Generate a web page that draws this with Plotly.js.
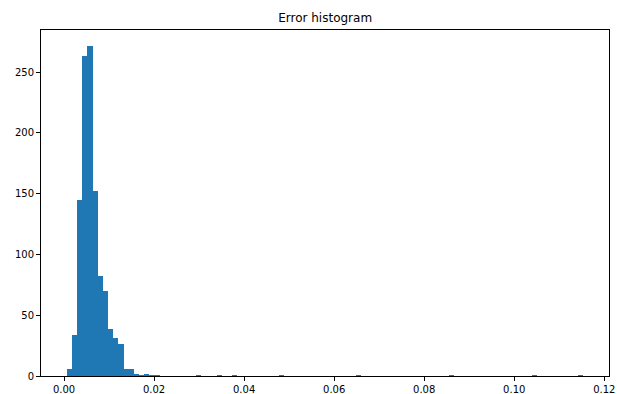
<!DOCTYPE html>
<html>
<head>
<meta charset="utf-8">
<script src="https://cdn.plot.ly/plotly-3.0.1.min.js"></script>
<style>html,body{margin:0;padding:0;background:#fff;}#chart{width:617px;height:394px;}</style>
</head>
<body>
<div id="chart"></div>
<script>
// Histogram: 100 equal-width bins, counts
const binStart = 0.00062;
const binWidth = 0.001147;
const counts = [
  6, 34, 145, 263, 271, 152, 82, 70, 39, 31,
  26, 6, 6, 2, 1, 2, 1, 1, 0, 0,
  0, 0, 0, 0, 0, 1, 0, 0, 0, 1,
  0, 0, 1, 0, 0, 0, 0, 0, 0, 0,
  0, 1, 0, 0, 0, 0, 0, 0, 0, 0,
  0, 0, 0, 0, 0, 0, 1, 0, 0, 0,
  0, 0, 0, 0, 0, 0, 0, 0, 0, 0,
  0, 0, 0, 0, 1, 0, 0, 0, 0, 0,
  0, 0, 0, 0, 0, 0, 0, 0, 0, 0,
  1, 0, 0, 0, 0, 0, 0, 0, 0, 1
];
const xTickVals = [0.00, 0.02, 0.04, 0.06, 0.08, 0.10, 0.12];
const yTickVals = [0, 50, 100, 150, 200, 250];
const titleText = "Error histogram";

const centers = counts.map((c, i) => binStart + binWidth * (i + 0.5));
const dataMin = binStart, dataMax = binStart + binWidth * counts.length;
const span = dataMax - dataMin;
const maxCount = Math.max(...counts);

const trace = {
  type: 'bar',
  x: centers,
  y: counts,
  width: binWidth,
  marker: {color: '#1f77b4', line: {width: 0}},
  hoverinfo: 'x+y'
};

const axisCommon = {
  showline: true, mirror: true, linecolor: '#000', linewidth: 1,
  ticks: 'outside', ticklen: 4, tickwidth: 1, tickcolor: '#000',
  showgrid: false, zeroline: false,
  tickfont: {family: 'DejaVu Sans', size: 10, color: '#000'}
};

const layout = {
  width: 617, height: 394,
  margin: {l: 41, r: 8, t: 30, b: 18},
  paper_bgcolor: '#fff', plot_bgcolor: '#fff',
  showlegend: false,
  bargap: 0,
  title: {
    text: titleText,
    font: {family: 'DejaVu Sans', size: 12, color: '#000'},
    x: 0.527, xanchor: 'center', xref: 'container',
    y: 1 - 18 / 394, yanchor: 'middle', yref: 'container'
  },
  xaxis: Object.assign({}, axisCommon, {
    range: [dataMin - 0.05 * span, dataMax + 0.05 * span],
    tickvals: xTickVals, tickformat: '.2f'
  }),
  yaxis: Object.assign({}, axisCommon, {
    range: [0, maxCount * 1.05],
    tickvals: yTickVals
  })
};

Plotly.newPlot('chart', [trace], layout, {displayModeBar: false, staticPlot: true});
</script>
</body>
</html>
